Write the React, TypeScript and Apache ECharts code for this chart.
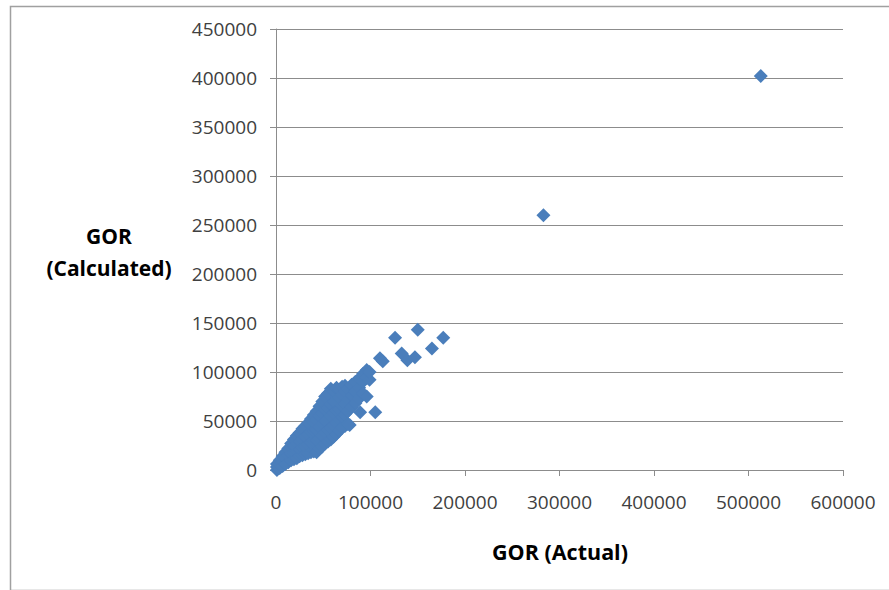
import React, { useEffect, useRef } from "react";
import * as echarts from "echarts";

const gorActual: number[] = [
  1000, 1000, 1000, 4000, 4000, 4000, 7000, 7000, 7000,
  10000, 10000, 10000, 13000, 13000, 13000,
  16000, 16000, 16000, 16000, 19000, 19000, 19000, 19000,
  22000, 22000, 22000, 22000, 25000, 25000, 25000, 25000,
  28000, 28000, 28000, 28000, 31000, 31000, 31000, 31000,
  34000, 34000, 34000, 34000, 37000, 37000, 37000, 37000,
  40000, 40000, 40000, 40000, 40000, 43000, 43000, 43000, 43000, 43000,
  46000, 46000, 46000, 46000, 46000, 49000, 49000, 49000, 49000, 49000,
  52000, 52000, 52000, 52000, 52000, 55000, 55000, 55000, 55000, 55000,
  58000, 58000, 58000, 58000, 58000, 61000, 61000, 61000, 61000, 61000,
  64000, 64000, 64000, 64000, 64000, 67000, 67000, 67000, 67000, 67000,
  70000, 70000, 70000, 70000, 70000, 73000, 73000, 73000, 73000, 73000,
  76000, 76000, 76000, 76000, 78000,
  80000, 80000, 80000, 84000, 84000, 84000, 88000, 88000, 88000,
  92000, 92000, 92000, 96000, 96000, 96000, 99000, 99000,
  89000, 105000, 110000, 113000, 126000, 133000, 139000, 147000,
  150000, 165000, 177000, 283000, 513000,
];

const gorCalculated: number[] = [
  0, 3000, 6000, 2000, 6000, 10000, 4000, 9000, 14000,
  6000, 12000, 18000, 8000, 15000, 22000,
  10000, 17000, 24000, 27000, 11000, 18000, 25000, 31000,
  12000, 19000, 27000, 35000, 14000, 21000, 29000, 38000,
  15000, 23000, 32000, 42000, 16000, 24000, 34000, 45000,
  17000, 26000, 36000, 48000, 18000, 28000, 39000, 52000,
  19000, 29000, 40000, 49000, 56000, 18000, 30000, 41000, 51000, 60000,
  22000, 33000, 44000, 55000, 65000, 24000, 35000, 47000, 58000, 70000,
  27000, 38000, 50000, 62000, 75000, 29000, 40000, 52000, 64000, 78000,
  31000, 43000, 55000, 67000, 83000, 34000, 46000, 58000, 70000, 80000,
  37000, 48000, 60000, 72000, 84000, 40000, 51000, 62000, 74000, 82000,
  43000, 54000, 66000, 77000, 85000, 45000, 57000, 68000, 80000, 86000,
  47000, 60000, 72000, 83000, 46000,
  64000, 76000, 87000, 68000, 80000, 90000, 73000, 84000, 93000,
  78000, 90000, 98000, 75000, 94000, 102000, 92000, 100000,
  59000, 59000, 114000, 111000, 135000, 119000, 112000, 115000,
  143000, 124000, 135000, 260000, 402000,
];

const xTitle = "GOR (Actual)";
const yTitle = "GOR\n(Calculated)";

const FONT = "'Open Sans', 'Noto Sans', sans-serif";

export default function App() {
  const ref = useRef<HTMLDivElement>(null);

  useEffect(() => {
    if (!ref.current) return;
    const chart = echarts.init(ref.current, null, { renderer: "svg" });
    const points = gorActual.map((x, i) => [x, gorCalculated[i]]);
    const plain = (v: number) => String(v);
    chart.setOption({
      animation: false,
      backgroundColor: "#ffffff",
      grid: { left: 276, top: 29, right: 46, bottom: 120, containLabel: false },
      xAxis: {
        type: "value",
        min: 0,
        max: 600000,
        interval: 100000,
        axisLine: { show: true, lineStyle: { color: "#8c8c8c", width: 1 } },
        axisTick: { show: true, length: 6, lineStyle: { color: "#8c8c8c" } },
        splitLine: { show: false },
        axisLabel: { margin: 22, fontSize: 19, fontFamily: FONT, color: "#404040", formatter: plain },
      },
      yAxis: {
        type: "value",
        min: 0,
        max: 450000,
        interval: 50000,
        axisLine: { show: true, onZero: false, lineStyle: { color: "#8c8c8c", width: 1 } },
        axisTick: { show: true, length: 6, lineStyle: { color: "#8c8c8c" } },
        splitLine: { show: true, lineStyle: { color: "#8c8c8c", width: 1 } },
        axisLabel: { margin: 19, fontSize: 19, fontFamily: FONT, color: "#404040", formatter: plain },
      },
      graphic: [
        {
          type: "rect",
          left: 8,
          top: 4,
          shape: { x: 0, y: 0, width: 890, height: 584 },
          style: { fill: "none", stroke: "#a0a0a0", lineWidth: 1.5 },
          silent: true,
        },
        {
          type: "text",
          x: 560,
          y: 551,
          style: {
            text: xTitle,
            fontFamily: FONT,
            fontSize: 21.5,
            fontWeight: "bold",
            fill: "#000000",
            align: "center",
            verticalAlign: "middle",
          },
        },
        {
          type: "text",
          x: 109,
          y: 252,
          style: {
            text: yTitle,
            fontFamily: FONT,
            fontSize: 21,
            fontWeight: "bold",
            fill: "#000000",
            align: "center",
            verticalAlign: "middle",
            lineHeight: 32,
          },
        },
      ],
      series: [
        {
          type: "scatter",
          symbol: "diamond",
          symbolSize: 14,
          itemStyle: { color: "#4A7EBB", opacity: 1 },
          data: points,
        },
      ],
    });
    return () => chart.dispose();
  }, []);

  return (
    <div
      ref={ref}
      style={{ position: "fixed", left: 0, top: 0, width: 889, height: 590, background: "#fff" }}
    />
  );
}
